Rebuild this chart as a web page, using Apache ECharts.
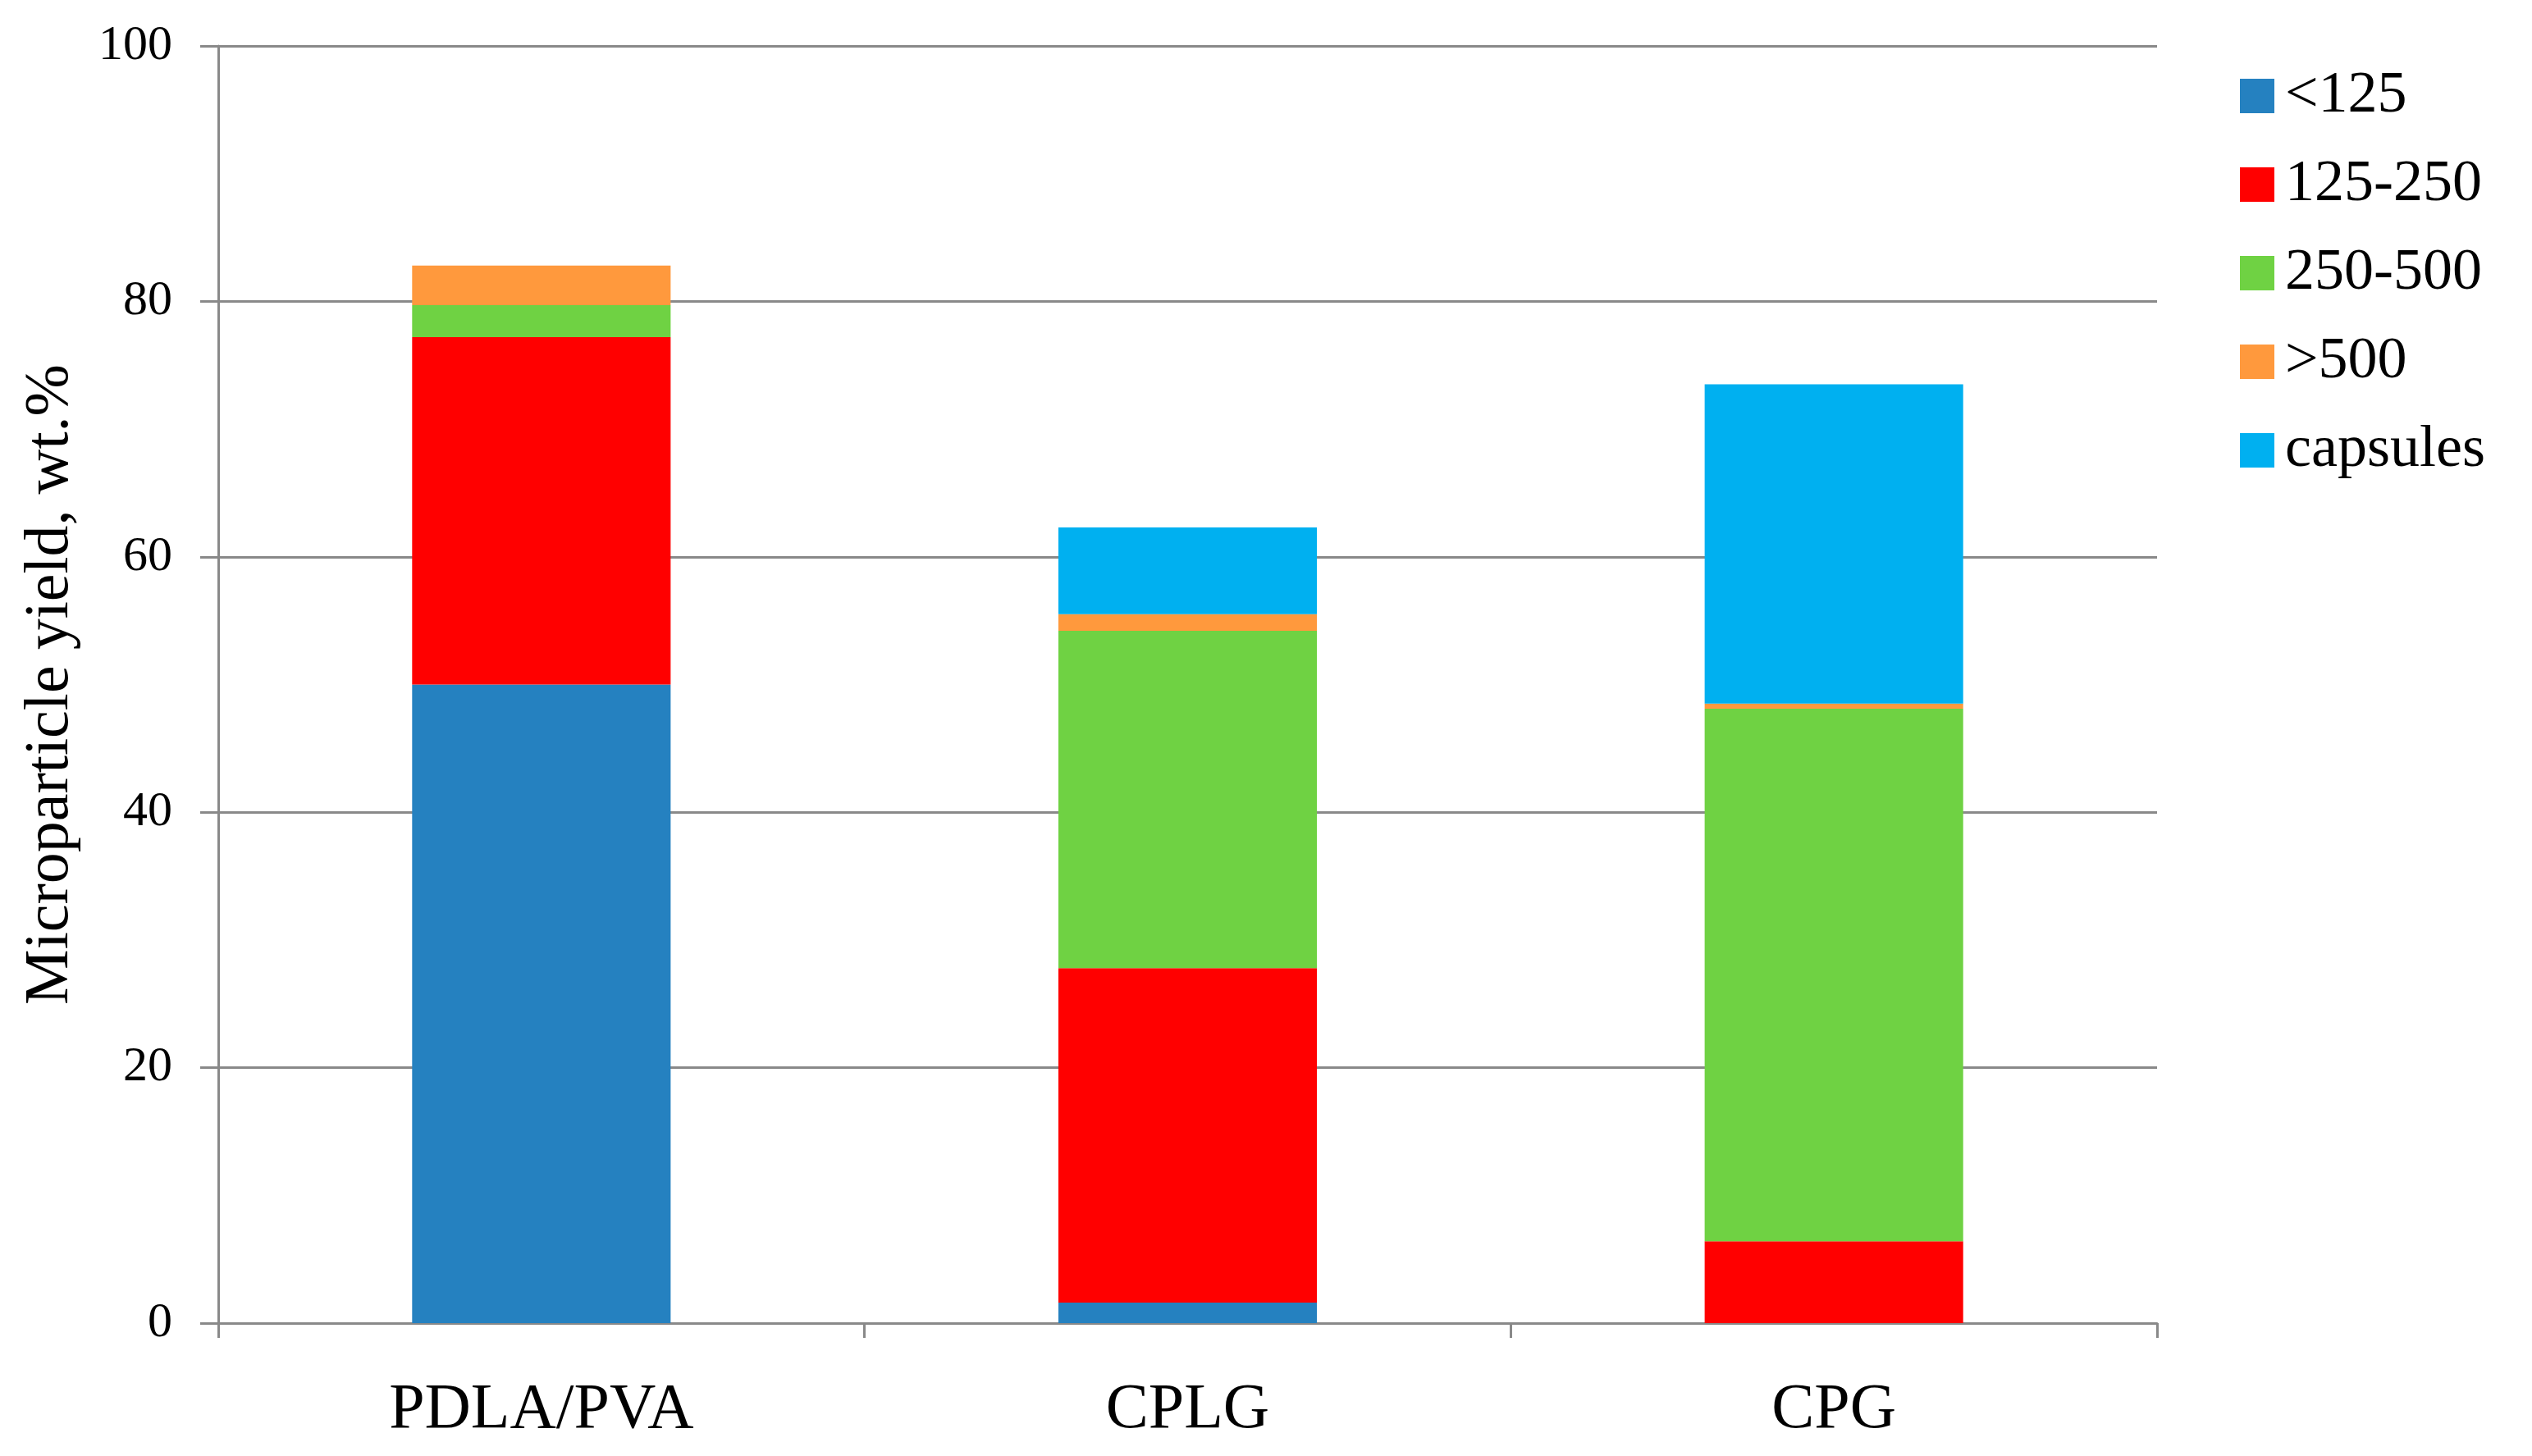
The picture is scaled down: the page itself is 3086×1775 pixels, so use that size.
<!DOCTYPE html>
<html>
<head>
<meta charset="utf-8">
<script src="https://cdn.jsdelivr.net/npm/echarts@6/dist/echarts.min.js"></script>
<style>
html,body{margin:0;padding:0;background:#fff;}
#chart{width:3086px;height:1775px;}
</style>
</head>
<body>
<div id="chart"></div>
<script>
const categories = ['PDLA/PVA', 'CPLG', 'CPG'];
const seriesNames = ['<125', '125-250', '250-500', '>500', 'capsules'];
const lt125 = [50.0, 1.6, 0];
const s125_250 = [27.2, 26.2, 6.4];
const s250_500 = [2.5, 26.4, 41.7];
const gt500 = [3.1, 1.3, 0.4];
const capsules = [0, 6.8, 25.0];
const yTicks = [0, 20, 40, 60, 80, 100];
const colors = ['#2581C0', '#FF0000', '#6FD243', '#FF993D', '#00B0F0'];

const values = [lt125, s125_250, s250_500, gt500, capsules];
const font = '"Liberation Serif", "DejaVu Serif", serif';

const chart = echarts.init(document.getElementById('chart'));
chart.setOption({
  animation: false,
  backgroundColor: '#ffffff',
  textStyle: { fontFamily: font, color: '#000' },
  grid: { left: 266, right: 457, top: 56, bottom: 162, containLabel: false },
  legend: {
    orient: 'vertical',
    left: 2725,
    top: 76,
    itemWidth: 42,
    itemHeight: 42,
    itemGap: 36,
    icon: 'rect',
    textStyle: { fontFamily: font, fontSize: 72, color: '#000', padding: [0, 0, 0, 8] },
    data: seriesNames
  },
  xAxis: {
    type: 'category',
    data: categories,
    boundaryGap: true,
    axisLine: { show: true, lineStyle: { color: '#898989', width: 3 } },
    axisTick: { show: true, alignWithLabel: false, length: 18, lineStyle: { color: '#898989', width: 3 } },
    axisLabel: { fontFamily: font, fontSize: 78, color: '#000', margin: 68 }
  },
  yAxis: {
    type: 'value',
    min: yTicks[0],
    max: yTicks[yTicks.length - 1],
    interval: 20,
    name: 'Microparticle yield, wt.%',
    nameLocation: 'middle',
    nameRotate: 90,
    nameGap: 166,
    nameTextStyle: { fontFamily: font, fontSize: 76, color: '#000' },
    axisLine: { show: true, lineStyle: { color: '#898989', width: 3 } },
    axisTick: { show: true, inside: false, length: 22, lineStyle: { color: '#898989', width: 3 } },
    axisLabel: { fontFamily: font, fontSize: 60, color: '#000', margin: 56 },
    splitLine: { show: true, lineStyle: { color: '#898989', width: 3 } }
  },
  series: seriesNames.map((n, i) => ({
    name: n,
    type: 'bar',
    stack: 'total',
    barWidth: '40%',
    itemStyle: { color: colors[i] },
    data: values[i]
  }))
});
</script>
</body>
</html>
